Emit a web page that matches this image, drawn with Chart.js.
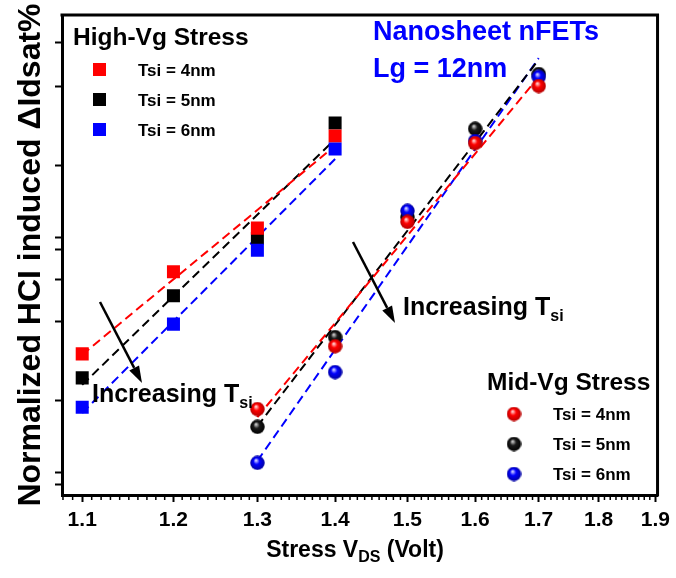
<!DOCTYPE html>
<html><head><meta charset="utf-8">
<script src="https://cdn.jsdelivr.net/npm/chart.js@4/dist/chart.umd.min.js"></script>
<style>html,body{margin:0;padding:0;background:#fff;}</style>
</head><body>
<canvas id="c" width="676" height="578"></canvas>
<script>
// ---- data ----
const xTickValues = [1.1, 1.2, 1.3, 1.4, 1.5, 1.6, 1.7, 1.8, 1.9];
const yTickValues = [2.1, 4.6, 19.6, 36.25, 45, 51.25, 53.75, 68.75, 85.2, 94.2];
const seriesLabels = ['Tsi = 4nm', 'Tsi = 5nm', 'Tsi = 6nm'];

const highVgX = [1.1, 1.2, 1.3, 1.4];
const highVg4nm = [29.4, 46.5, 55.6, 74.8];
const highVg5nm = [24.4, 41.5, 53.5, 77.5];
const highVg6nm = [18.3, 35.6, 51.0, 72.1];

const midVgX = [1.3, 1.4, 1.5, 1.6, 1.7];
const midVg4nm = [17.9, 31.0, 56.9, 73.3, 85.2];
const midVg5nm = [14.2, 32.9, 57.9, 76.3, 87.7];
const midVg6nm = [6.7, 25.6, 59.2, 73.75, 87.1];

// ---- helpers ----
const FONT = "'Liberation Sans', Arial, sans-serif";
const COLORS = ['#ff0000', '#000000', '#0000ff'];

function pts(xs, ys) { return xs.map((x, i) => ({x: x, y: ys[i]})); }
function fitLine(xs, ys) {
  const lx = xs.map(Math.log), n = xs.length;
  const mx = lx.reduce((a, b) => a + b, 0) / n, my = ys.reduce((a, b) => a + b, 0) / n;
  let sxy = 0, sxx = 0;
  for (let i = 0; i < n; i++) { sxy += (lx[i] - mx) * (ys[i] - my); sxx += (lx[i] - mx) ** 2; }
  const b = sxy / sxx, a = my - b * mx;
  return [xs[0], xs[n - 1]].map(x => ({x: x, y: a + b * Math.log(x)}));
}
function sphere(hi, base, dark) {
  const d = 15, c = document.createElement('canvas');
  c.width = c.height = d;
  const g = c.getContext('2d');
  const gr = g.createRadialGradient(d * 0.4, d * 0.32, 0.3, d * 0.5, d * 0.5, d * 0.5);
  gr.addColorStop(0, hi); gr.addColorStop(0.4, base); gr.addColorStop(1, dark);
  g.fillStyle = gr; g.beginPath(); g.arc(d / 2, d / 2, d / 2 - 0.3, 0, Math.PI * 2); g.fill();
  return c;
}
const SPHERES = [sphere('#ffe0e0', '#ff0000', '#b00000'), sphere('#d8d8d8', '#1a1a1a', '#000000'), sphere('#e0e0ff', '#0000ff', '#00009a')];

const highSets = [highVg4nm, highVg5nm, highVg6nm];
const midSets = [midVg4nm, midVg5nm, midVg6nm];
const highOrder = [2, 3, 1];   // lower order = drawn on top
const midOrder = [1, 3, 2];

const datasets = [];
highSets.forEach((ys, i) => datasets.push({type: 'line', data: fitLine(highVgX, ys), borderColor: COLORS[i], borderWidth: 2, borderDash: [9, 5], pointRadius: 0, fill: false, order: 20}));
midSets.forEach((ys, i) => datasets.push({type: 'line', data: fitLine(midVgX, ys), borderColor: COLORS[i], borderWidth: 2, borderDash: [9, 5], pointRadius: 0, fill: false, order: 20}));
highSets.forEach((ys, i) => datasets.push({type: 'scatter', label: 'High-Vg ' + seriesLabels[i], data: pts(highVgX, ys), pointStyle: 'rect', pointRadius: 9.2, backgroundColor: COLORS[i], borderWidth: 0, order: highOrder[i] + 5}));
midSets.forEach((ys, i) => datasets.push({type: 'scatter', label: 'Mid-Vg ' + seriesLabels[i], data: pts(midVgX, ys), pointStyle: SPHERES[i], pointRadius: 7.5, backgroundColor: COLORS[i], borderWidth: 0, order: midOrder[i]}));

function drawSubText(ctx, x, y, parts) {
  let cx = x;
  parts.forEach(p => {
    ctx.font = 'bold ' + p[1] + 'px ' + FONT;
    ctx.fillText(p[0], cx, y + p[2]);
    cx += ctx.measureText(p[0]).width;
  });
  return cx - x;
}
function measureSub(ctx, parts) {
  let w = 0;
  parts.forEach(p => { ctx.font = 'bold ' + p[1] + 'px ' + FONT; w += ctx.measureText(p[0]).width; });
  return w;
}
function arrow(ctx, x1, y1, x2, y2) {
  const ang = Math.atan2(y2 - y1, x2 - x1), L = 17, W = 5.5;
  const bx = x2 - L * Math.cos(ang), by = y2 - L * Math.sin(ang);
  ctx.strokeStyle = '#000'; ctx.lineWidth = 2.5; ctx.beginPath(); ctx.moveTo(x1, y1); ctx.lineTo(bx, by); ctx.stroke();
  ctx.fillStyle = '#000'; ctx.beginPath(); ctx.moveTo(x2, y2);
  ctx.lineTo(bx + W * Math.sin(ang), by - W * Math.cos(ang));
  ctx.lineTo(bx - W * Math.sin(ang), by + W * Math.cos(ang));
  ctx.closePath(); ctx.fill();
}

const decor = {
  id: 'decor',
  afterDraw(chart) {
    const ctx = chart.ctx, ca = chart.chartArea, xs = chart.scales.x;
    ctx.save();
    // frame top/right
    ctx.strokeStyle = '#000'; ctx.lineWidth = 3;
    ctx.beginPath(); ctx.moveTo(ca.left - 1.5, ca.top); ctx.lineTo(ca.right, ca.top); ctx.lineTo(ca.right, ca.bottom + 1.5); ctx.stroke();
    // minor x ticks
    ctx.lineWidth = 1.5;
    for (let k = 108; k <= 190; k++) {
      if (k % 10 === 0) continue;
      const px = xs.getPixelForValue(k / 100);
      ctx.beginPath(); ctx.moveTo(px, ca.bottom + 1.5); ctx.lineTo(px, ca.bottom + 5); ctx.stroke();
    }
    // axis titles
    ctx.fillStyle = '#000'; ctx.textBaseline = 'alphabetic'; ctx.textAlign = 'left';
    const xt = [['Stress V', 23, 0], ['DS', 16, 5], [' (Volt)', 23, 0]];
    const w = measureSub(ctx, xt);
    drawSubText(ctx, 355 - w / 2, 557, xt);
    ctx.save(); ctx.translate(31, 255); ctx.rotate(-Math.PI / 2);
    ctx.font = 'bold 32px ' + FONT; ctx.textAlign = 'center'; ctx.textBaseline = 'middle';
    ctx.fillText('Normalized HCI induced \u0394Idsat%', 0, 0);
    ctx.restore();
    // High-Vg legend
    ctx.textAlign = 'left'; ctx.textBaseline = 'alphabetic';
    ctx.font = 'bold 24.5px ' + FONT; ctx.fillText('High-Vg Stress', 73, 45);
    const rows = [70, 100, 130];
    ctx.textBaseline = 'middle'; ctx.font = 'bold 17px ' + FONT;
    rows.forEach((ry, i) => {
      ctx.fillStyle = COLORS[i]; ctx.fillRect(93, ry - 7, 13, 13);
      ctx.fillStyle = '#000'; ctx.fillText(seriesLabels[i], 138, ry + 1);
    });
    // Mid-Vg legend
    ctx.textBaseline = 'alphabetic'; ctx.font = 'bold 24.5px ' + FONT; ctx.fillText('Mid-Vg Stress', 487, 390);
    const rows2 = [414, 444, 474];
    ctx.textBaseline = 'middle'; ctx.font = 'bold 17px ' + FONT;
    rows2.forEach((ry, i) => {
      const s = SPHERES[i]; ctx.drawImage(s, 514 - s.width / 2, ry - s.height / 2);
      ctx.fillStyle = '#000'; ctx.fillText(seriesLabels[i], 553, ry + 1);
    });
    // annotations
    ctx.textBaseline = 'alphabetic'; ctx.fillStyle = '#0000ff'; ctx.font = 'bold 27px ' + FONT;
    ctx.fillText('Nanosheet nFETs', 373, 40);
    ctx.fillText('Lg = 12nm', 373, 77);
    ctx.fillStyle = '#000';
    drawSubText(ctx, 92, 402, [['Increasing T', 25, 0], ['si', 16, 6]]);
    drawSubText(ctx, 403, 315, [['Increasing T', 25, 0], ['si', 16, 6]]);
    arrow(ctx, 100, 302, 142, 383);
    arrow(ctx, 353, 242, 395, 323);
    ctx.restore();
  }
};

new Chart(document.getElementById('c'), {
  data: {datasets: datasets},
  options: {
    responsive: false, animation: false, devicePixelRatio: 1,
    layout: {padding: {top: 15, right: 17, left: 0, bottom: 0}},
    plugins: {legend: {display: false}, tooltip: {enabled: false}},
    scales: {
      x: {
        type: 'logarithmic', position: 'bottom', min: 1.079, max: 1.904,
        afterBuildTicks: s => { s.ticks = xTickValues.map(v => ({value: v, major: true})); },
        afterFit: s => { s.height = 83; },
        ticks: {callback: v => Number(v).toFixed(1), autoSkip: false, maxRotation: 0, padding: 6, color: '#000', font: {family: FONT, size: 21, weight: 'bold'}},
        grid: {drawOnChartArea: false, drawTicks: true, tickLength: 7, tickWidth: 2, tickColor: '#000'},
        border: {color: '#000', width: 3}
      },
      y: {
        type: 'linear', min: 0, max: 100,
        afterBuildTicks: s => { s.ticks = yTickValues.map(v => ({value: v})); },
        afterFit: s => { s.width = 62; },
        ticks: {display: false},
        grid: {drawOnChartArea: false, drawTicks: true, tickLength: 7, tickWidth: 2, tickColor: '#000'},
        border: {color: '#000', width: 3}
      }
    }
  },
  plugins: [decor]
});
</script>
</body></html>
